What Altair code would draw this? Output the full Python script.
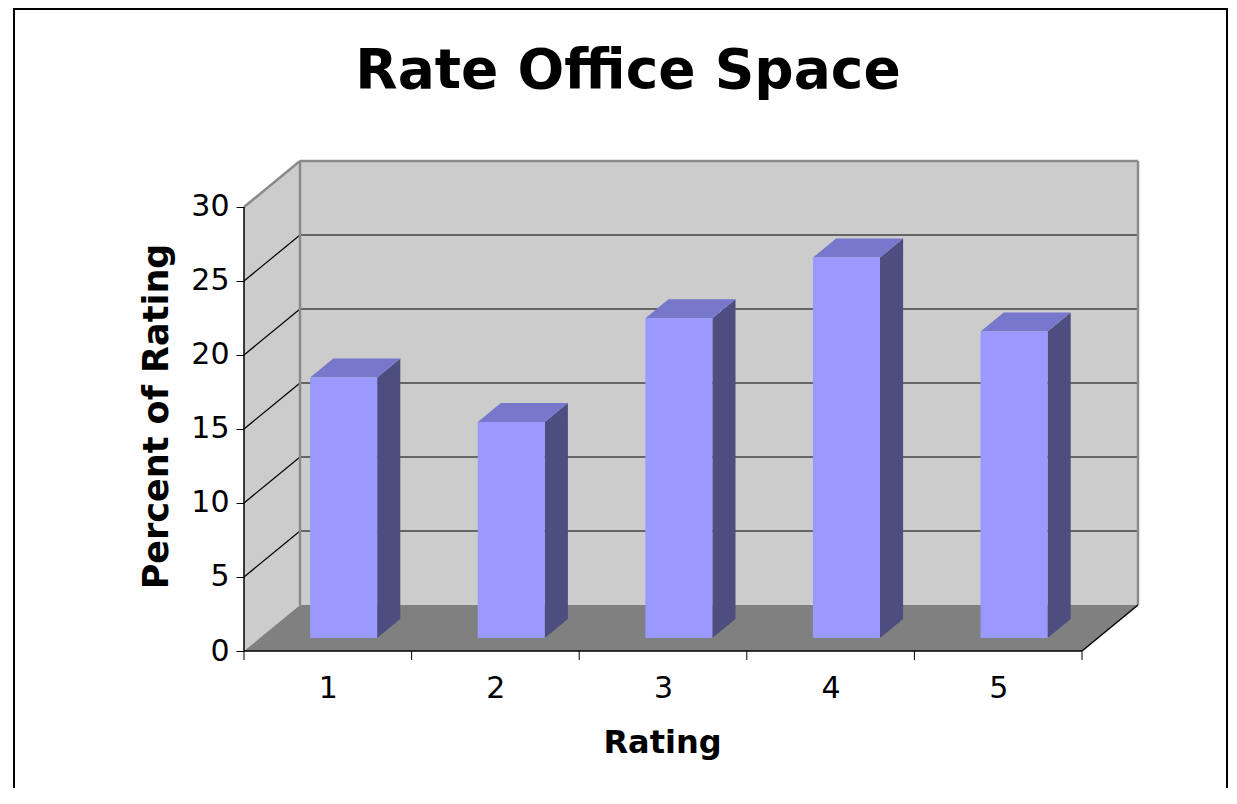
import altair as alt
import pandas as pd

# ---- data ----
ratings = [1, 2, 3, 4, 5]
percents = [17.6, 14.6, 21.6, 25.7, 20.7]
y_ticks = [0, 5, 10, 15, 20, 25, 30]
grid_levels = [5, 10, 15, 20, 25]
title_text = "Rate Office Space"
x_title = "Rating"
y_title = "Percent of Rating"

# ---- 3-D geometry (in data units) ----
DX = 0.3341      # depth offset along x (category units)
DY = 3.108       # depth offset along y (value units)
HALF = 0.2       # half bar width
F1, F2 = 0.283, 0.696   # bar front / back depth fractions
Y_MAX = 30
X_MIN, X_MAX = 0.5, 5.5

W, H = 894, 490
PAD = {"left": 236, "top": 153, "right": 91, "bottom": 137}
FONT = "DejaVu Sans"

xscale = alt.Scale(domain=[X_MIN, X_MAX + DX], nice=False, zero=False)
yscale = alt.Scale(domain=[0, Y_MAX + DY], nice=False, zero=False)

xaxis = alt.Axis(values=ratings, ticks=False, domain=False, grid=False,
                 labelFontSize=30, labelFont=FONT, labelColor="black",
                 labelPadding=22, labelAngle=0,
                 title=x_title, titleFont=FONT, titleFontSize=32,
                 titleFontWeight="bold", titleColor="black",
                 titleX=418, titleY=101, titleBaseline="alphabetic",
                 titleAlign="center")
yaxis = alt.Axis(values=y_ticks, ticks=True, tickSize=8, tickColor="black",
                 tickWidth=1, domain=False, grid=False,
                 labelFontSize=30, labelFont=FONT, labelColor="black",
                 labelPadding=7,
                 title=y_title, titleFont=FONT, titleFontSize=35,
                 titleFontWeight="bold", titleColor="black",
                 titleAngle=270, titleX=-77, titleY=255,
                 titleBaseline="alphabetic", titleAlign="center")


def X(f):
    return alt.X(f + ":Q", scale=xscale, axis=xaxis)


def Y(f):
    return alt.Y(f + ":Q", scale=yscale, axis=yaxis, stack=False)


def X2(f):
    return alt.X2(f + ":Q")


def Y2(f):
    return alt.Y2(f + ":Q")


# back wall
back = pd.DataFrame({"x": [X_MIN + DX], "x2": [X_MAX + DX], "y": [DY], "y2": [Y_MAX + DY]})
back_l = alt.Chart(back).mark_rect(color="#cccccc").encode(
    x=X("x"), x2=X2("x2"), y=Y("y"), y2=Y2("y2"))

# side wall
side = pd.DataFrame({"x": [X_MIN, X_MIN + DX], "y": [0, DY], "y2": [Y_MAX, Y_MAX + DY]})
side_l = alt.Chart(side).mark_area(color="#cccccc", opacity=1).encode(
    x=X("x"), y=Y("y"), y2=Y2("y2"))

# grid lines on walls
g_rows = []
for v in grid_levels:
    g_rows.append({"x": X_MIN + DX, "x2": X_MAX + DX, "y": v + DY, "y2": v + DY})
    g_rows.append({"x": X_MIN, "x2": X_MIN + DX, "y": v, "y2": v + DY})
grid_l = alt.Chart(pd.DataFrame(g_rows)).mark_rule(color="black", strokeWidth=1.2).encode(
    x=X("x"), x2=X2("x2"), y=Y("y"), y2=Y2("y2"))

# floor
floor = pd.DataFrame({"x": [X_MIN, X_MIN + DX, X_MAX, X_MAX + DX],
                      "y": [0, 0, 0, DY], "y2": [0, DY, DY, DY]})
floor_l = alt.Chart(floor).mark_area(color="#808080", opacity=1).encode(
    x=X("x"), y=Y("y"), y2=Y2("y2"))

# wall edges (gray)
e_rows = [
    {"x": X_MIN + DX, "x2": X_MIN + DX, "y": DY, "y2": Y_MAX + DY},
    {"x": X_MIN + DX, "x2": X_MAX + DX, "y": Y_MAX + DY, "y2": Y_MAX + DY},
    {"x": X_MAX + DX, "x2": X_MAX + DX, "y": DY, "y2": Y_MAX + DY},
    {"x": X_MIN, "x2": X_MIN + DX, "y": Y_MAX, "y2": Y_MAX + DY},
]
edge_l = alt.Chart(pd.DataFrame(e_rows)).mark_rule(color="#8a8a8a", strokeWidth=2.5).encode(
    x=X("x"), x2=X2("x2"), y=Y("y"), y2=Y2("y2"))

# black lines: axes + floor right edge
b_rows = [
    {"x": X_MIN, "x2": X_MIN, "y": 0, "y2": Y_MAX},
    {"x": X_MIN, "x2": X_MAX, "y": 0, "y2": 0},
    {"x": X_MAX, "x2": X_MAX + DX, "y": 0, "y2": DY},
]
black_l = alt.Chart(pd.DataFrame(b_rows)).mark_rule(color="black", strokeWidth=1.5).encode(
    x=X("x"), x2=X2("x2"), y=Y("y"), y2=Y2("y2"))

# x tick marks at category boundaries
bounds = pd.DataFrame({"x": [r - 0.5 for r in ratings] + [ratings[-1] + 0.5]})
xtick_l = alt.Chart(bounds).mark_rule(color="black", strokeWidth=1).encode(
    x=X("x"), y=alt.value(H), y2=alt.value(H + 9))

# bars
dx1, dy1, dx2, dy2 = F1 * DX, F1 * DY, F2 * DX, F2 * DY
front_rows, top_rows, side_rows = [], [], []
for r, v in zip(ratings, percents):
    front_rows.append({"r": r, "x": r - HALF + dx1, "x2": r + HALF + dx1,
                       "y": dy1, "y2": v + dy1})
    top_rows += [
        {"r": r, "x": r - HALF + dx1, "y": v + dy1, "y2": v + dy1},
        {"r": r, "x": r - HALF + dx2, "y": v + dy1, "y2": v + dy2},
        {"r": r, "x": r + HALF + dx1, "y": v + dy1, "y2": v + dy2},
        {"r": r, "x": r + HALF + dx2, "y": v + dy2, "y2": v + dy2},
    ]
    side_rows += [
        {"r": r, "x": r + HALF + dx1, "y": dy1, "y2": v + dy1},
        {"r": r, "x": r + HALF + dx2, "y": dy2, "y2": v + dy2},
    ]

bar_side_l = alt.Chart(pd.DataFrame(side_rows)).mark_area(color="#4d4d80", opacity=1).encode(
    x=X("x"), y=Y("y"), y2=Y2("y2"), detail="r:N")
bar_top_l = alt.Chart(pd.DataFrame(top_rows)).mark_area(color="#7777cc", opacity=1).encode(
    x=X("x"), y=Y("y"), y2=Y2("y2"), detail="r:N")
bar_front_l = alt.Chart(pd.DataFrame(front_rows)).mark_rect(color="#9999ff").encode(
    x=X("x"), x2=X2("x2"), y=Y("y"), y2=Y2("y2"))

# title
title_l = alt.Chart(pd.DataFrame({"t": [title_text]})).mark_text(
    font=FONT, fontSize=55, fontWeight="bold", align="center",
    baseline="alphabetic", color="black").encode(
    x=alt.value(384), y=alt.value(-73), text="t:N")

# outer frame
one = pd.DataFrame({"a": [0]})
frame_left = alt.Chart(one).mark_rule(color="black", strokeWidth=2).encode(
    x=alt.value(-230), y=alt.value(-152), y2=alt.value(700))
frame_top = alt.Chart(one).mark_rule(color="black", strokeWidth=2).encode(
    x=alt.value(-231), x2=alt.value(984), y=alt.value(-152))
frame_right = alt.Chart(one).mark_rule(color="black", strokeWidth=2).encode(
    x=alt.value(983), y=alt.value(-152), y2=alt.value(700))

chart = alt.layer(
    back_l, side_l, grid_l, floor_l, edge_l, black_l, xtick_l,
    bar_side_l, bar_top_l, bar_front_l,
    title_l, frame_left, frame_top, frame_right,
).properties(
    width=W, height=H, padding=PAD, background="white",
    autosize=alt.AutoSizeParams(type="none"),
).configure_view(strokeWidth=0, stroke="transparent")

chart.save("out.html", embed_options={"renderer": "svg", "actions": False})
